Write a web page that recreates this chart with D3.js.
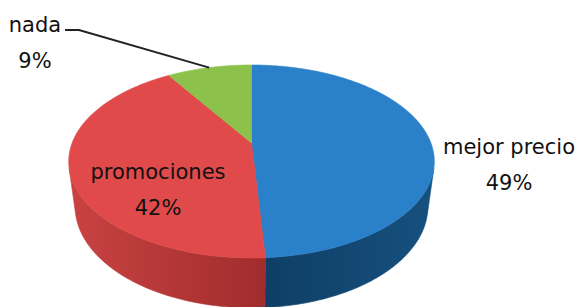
<!DOCTYPE html>
<html>
<head>
<meta charset="utf-8">
<script src="https://cdn.jsdelivr.net/npm/d3@7"></script>
<style>
  html, body { margin: 0; padding: 0; background: #fff; }
  svg text { font-family: "DejaVu Sans", sans-serif; fill: #111; }
</style>
</head>
<body>
<div id="chart"></div>
<script>
// chart data
var categories = ["mejor precio", "promociones", "nada"];
var values = [49, 42, 9];
var pctLabels = ["49%", "42%", "9%"];
var topColors = ["#2a80c9", "#e04a4a", "#8cc24c"];
var sideLight = ["#16507e", "#c94242", "#6e9c36"];
var sideDark = ["#0f3f66", "#a02c2c", "#5d8a2c"];

var width = 582, height = 307;

// 3d view of the pie
var cx = 251.5, cy = 143;   // projected centre of top face
var focal = 802, dist = 4.47;
var tilt = Math.asin(0.518);
var sn = Math.sin(tilt), cs = Math.cos(tilt);
var depth = 0.3;

function project(phi, r, y) {
	var X = r * Math.sin(phi), Z = -r * Math.cos(phi);
	var v = Z * sn - y * cs;
	var d = -Z * cs - y * sn;
	var k = focal / (dist + d);
	return [cx + k * X, cy + k * v];
}

function arcPoints(a0, a1, r, y) {
	var n = Math.max(2, Math.ceil((a1 - a0) / 0.01));
	var pts = [];
	for (var i = 0; i <= n; i++) {
		pts.push(project(a0 + (a1 - a0) * i / n, r, y));
	}
	return pts;
}

var svg = d3.select("#chart").append("svg")
	.attr("width", width)
	.attr("height", height);

var pie = d3.pie().sort(null);
var slices = pie(values);
var line = d3.line();

// side shading: lighter towards the left/right silhouette
var defs = svg.append("defs");
var leftX = project(Math.PI * 1.5, 1, 0)[0];
var rightX = project(Math.PI * 0.5, 1, 0)[0];
slices.forEach(function(s, i) {
	var grad = defs.append("linearGradient")
		.attr("id", "side" + i)
		.attr("gradientUnits", "userSpaceOnUse")
		.attr("x1", leftX).attr("x2", rightX)
		.attr("y1", 0).attr("y2", 0);
	grad.append("stop").attr("offset", 0).attr("stop-color", sideLight[i]);
	grad.append("stop").attr("offset", 0.55).attr("stop-color", sideDark[i]);
	grad.append("stop").attr("offset", 1).attr("stop-color", sideLight[i]);
});

// visible part of the outer wall (faces the camera)
var phiVis = Math.acos(-1 / (dist * cs));
var walls = svg.append("g");
slices.forEach(function(s, i) {
	var a0 = Math.max(s.startAngle, phiVis);
	var a1 = Math.min(s.endAngle, 2 * Math.PI - phiVis);
	if (a1 <= a0) return;
	var top = arcPoints(a0, a1, 1, 0);
	var bot = arcPoints(a0, a1, 1, -depth).reverse();
	walls.append("path")
		.attr("d", line(top.concat(bot)) + "Z")
		.attr("fill", "url(#side" + i + ")")
		.attr("stroke", "url(#side" + i + ")")
		.attr("stroke-width", 0.6);
});

// top faces
var tops = svg.append("g");
slices.forEach(function(s, i) {
	var pts = [project(0, 0, 0)].concat(arcPoints(s.startAngle, s.endAngle, 1, 0));
	tops.append("path")
		.attr("d", line(pts) + "Z")
		.attr("fill", topColors[i])
		.attr("stroke", topColors[i])
		.attr("stroke-width", 0.6);
});

// labels
var fs = 21;
function label(x, y, i) {
	var t = svg.append("text")
		.attr("text-anchor", "middle")
		.attr("font-size", fs);
	t.append("tspan").attr("x", x).attr("y", y).text(categories[i]);
	t.append("tspan").attr("x", x).attr("y", y + 36).text(pctLabels[i]);
}

label(509, 154, 0);
label(158, 179, 1);
label(35, 32, 2);

// leader line for the small slice
var g = slices[2];
var tip = project((g.startAngle + g.endAngle) / 2, 1, 0);
svg.append("path")
	.attr("d", line([[65, 30], [79, 30], tip]))
	.attr("fill", "none")
	.attr("stroke", "#222")
	.attr("stroke-width", 2);
</script>
</body>
</html>
